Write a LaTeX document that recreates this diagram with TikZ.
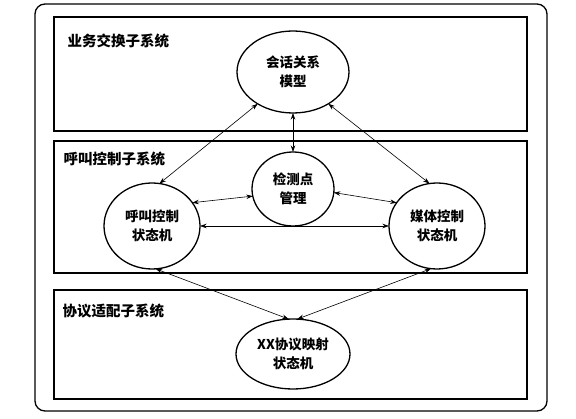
\documentclass[tikz,border=0pt]{standalone}
\usepackage{fontspec}
\setmainfont{Noto Sans CJK SC}
\usetikzlibrary{shapes, arrows.meta, positioning}

\begin{document}
\begin{tikzpicture}[x=1pt, y=-1pt, >={Stealth[length=6.5pt,width=4.5pt]}, line width=1.3pt]

\useasboundingbox (0,0) rectangle (576,419);

\tikzstyle{outer_frame} = [rectangle, rounded corners=10pt, draw=black, minimum width=512pt, minimum height=407pt]
\tikzstyle{subsys} = [rectangle, draw=black, minimum width=473pt, outer sep=0pt]
\tikzstyle{subsys_title} = [inner sep=0pt, font=\fontsize{14.5}{16}\selectfont\bfseries]
\tikzstyle{machine} = [ellipse, draw=black, align=center, inner sep=0pt, outer sep=0pt, font=\fontsize{13.5}{18.5}\selectfont\bfseries]
\tikzstyle{link} = [<->, line width=0.6pt]

\node (F) [outer_frame] at (291,207.5) {};
\node (S1) [subsys, minimum height=114pt] at (290.5,74) {};
\node (S2) [subsys, minimum height=132pt, below=10pt of S1] {};
\node (S3) [subsys, minimum height=109pt, below=17pt of S2] {};

\node (T1) [subsys_title, below right=16pt and 13pt of S1.north west] {业务交换子系统};
\node (T2) [subsys_title, below right=10pt and 9pt of S2.north west] {呼叫控制子系统};
\node (T3) [subsys_title, below right=13pt and 8pt of S3.north west] {协议适配子系统};

\node (model) [machine, minimum width=112pt, minimum height=82pt] at (293,72) {会话关系\\模型};
\node (dpm) [machine, minimum width=82pt, minimum height=74pt, below=39pt of model] {检测点\\管理};
\node (callsm) [machine, minimum width=96pt, minimum height=86pt] at (152,226) {呼叫控制\\状态机};
\node (mediasm) [machine, minimum width=96pt, minimum height=86pt, right=189pt of callsm] {媒体控制\\状态机};
\node (xxsm) [machine, minimum width=114pt, minimum height=70pt] at (293,354) {XX协议映射\\状态机};

\draw [link] (model.222) -- (callsm.80);
\draw [link] (model.south) -- (dpm.north);
\draw [link] (model.318) -- (mediasm.100);
\draw [link] (dpm.190) -- (callsm.30);
\draw [link] (dpm.355) -- (mediasm.150);
\draw [link] (callsm.east) -- (mediasm.west);
\draw [link] (callsm.275) -- (xxsm.97);
\draw [link] (mediasm.262) -- (xxsm.83);

\end{tikzpicture}
\end{document}
